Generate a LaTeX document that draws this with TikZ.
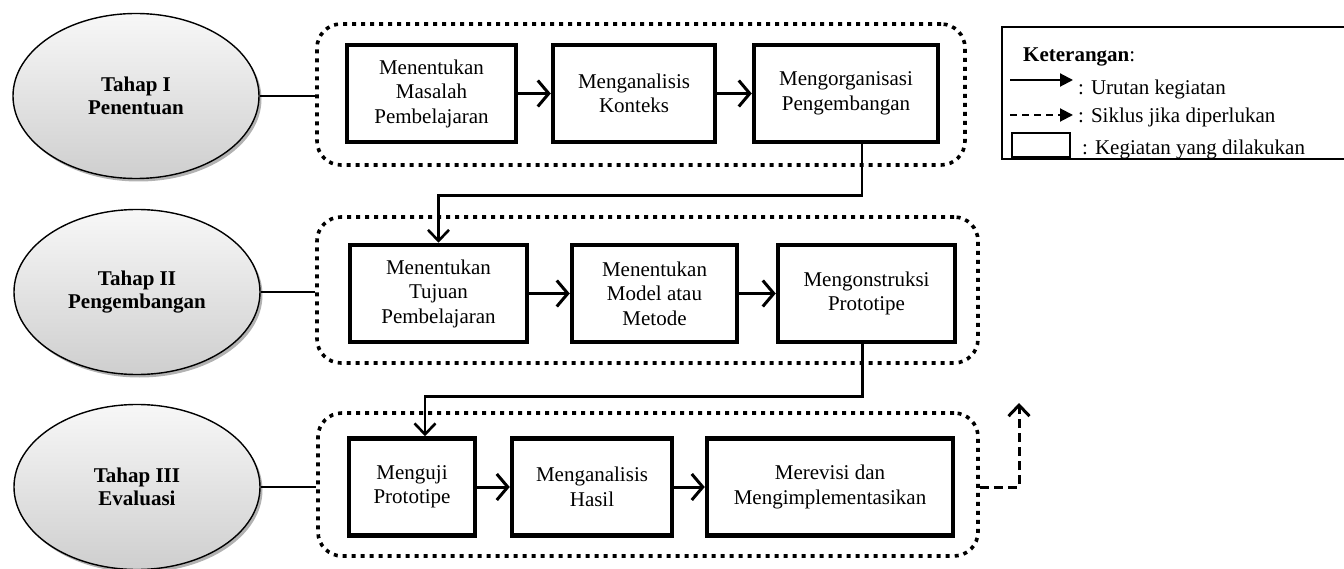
\documentclass[tikz,border=0pt]{standalone}
\usepackage{fontspec}
\setmainfont{Liberation Serif}
\usetikzlibrary{shapes.geometric,arrows.meta,shadows}

\begin{document}
\begin{tikzpicture}[x=1pt,y=-1pt,font=\fontsize{21}{24.5}\selectfont]
		\tikzstyle{phase} =[ellipse, draw, line width=1.4pt, minimum width=246pt, minimum height=165pt, top color=gray!6, bottom color=gray!38, drop shadow={shadow xshift=2.5pt, shadow yshift=-3pt, fill=gray!75, opacity=0.8}, align=center, font=\fontsize{21}{23.5}\selectfont\bfseries];
		\tikzstyle{group} =[draw, line width=3.6pt, dash pattern=on 4pt off 5pt, rounded corners=24pt, inner sep=0pt];
		\tikzstyle{block} =[draw, line width=4.5pt, inner sep=0pt, minimum height=97pt, text badly centered, fill=white];
		\tikzstyle{seqline} =[line width=3pt, -{Straight Barb[length=11pt, width=26pt]}];
		\tikzstyle{flow} =[line width=2.6pt, -{Straight Barb[length=11pt, width=21pt]}];
		\tikzstyle{tie} =[line width=2.4pt];
		\tikzstyle{loopback} =[line width=3pt, dash pattern=on 9pt off 5pt, -{Straight Barb[length=11pt, width=21pt]}];
		\useasboundingbox (0,0) rectangle (1344,569);

		% tahap
		\node[phase] (e1) at (136,96) {Tahap I\\Penentuan};
		\node[phase] (e2) at (137,292) {Tahap II\\Pengembangan};
		\node[phase] (e3) at (137,487) {Tahap III\\Evaluasi};

		\node[group, minimum width=648pt, minimum height=141pt] (p1) at (641,94.5) {};
		\node[group, minimum width=661pt, minimum height=146pt] (p2) at (647.5,290) {};
		\node[group, minimum width=660pt, minimum height=143pt] (p3) at (648,484.5) {};

		% kegiatan
		\node[block, text width=169pt] (A) at (431.5,93.5) {Menentukan\\Masalah\\Pembelajaran};
		\node[block, text width=162pt, right of = A, node distance=202.5pt] (B) {Menganalisis\\Konteks};
		\node[block, text width=184pt, right of = B, node distance=212pt] (C) {Mengorganisasi\\Pengembangan};

		\node[block, text width=177pt] (D) at (438.5,293.5) {Menentukan\\Tujuan\\Pembelajaran};
		\node[block, text width=165pt, right of = D, node distance=216pt] (E) {Menentukan\\Model atau\\Metode};
		\node[block, text width=177pt, right of = E, node distance=212pt] (F) {Mengonstruksi\\Prototipe};

		\node[block, text width=126pt] (G) at (412,487) {Menguji\\Prototipe};
		\node[block, text width=160pt, right of = G, node distance=180pt] (H) {Menganalisis\\Hasil};
		\node[block, text width=246pt, right of = H, node distance=238pt] (I) {Merevisi dan\\Mengimplementasikan};

		\draw[tie] (e1.east) -- (e1.east -| p1.west);
		\draw[tie] (e2.east) -- (e2.east -| p2.west);
		\draw[tie] (e3.east) -- (e3.east -| p3.west);

		\draw[seqline] (A) -- (B);
		\draw[seqline] (B) -- (C);
		\draw[seqline] (D) -- (E);
		\draw[seqline] (E) -- (F);
		\draw[seqline] (G) -- (H);
		\draw[seqline] (H) -- (I);

		\draw[flow] ([xshift=16pt]C.south) -- ++(0,51) -| (D.north);
		\draw[flow] ([xshift=-4pt]F.south) -- ++(0,52) -| ([xshift=13pt]G.north);

		\coordinate (again) at (1019,403);
		\draw[loopback] (p3.east |- I.east) -| (again);

		% keterangan
		\node[draw, line width=1.6pt, minimum width=350pt, minimum height=132pt, inner sep=0pt] (legend) at (1177,93) {};
		\begin{scope}
			\clip (legend.north west) rectangle (legend.south east);
			\node[anchor=base west, inner sep=0pt] (legtitle) at (1023,62) {\textbf{Keterangan}:};
			\node[anchor=base west, inner sep=0pt] (legsolid) at (1078,95) {: Urutan kegiatan};
			\node[anchor=base west, inner sep=0pt] (legdash) at (1078,123) {: Siklus jika diperlukan};
			\node[anchor=base west, inner sep=0pt] (legbox) at (1082,155) {: Kegiatan yang dilakukan};
		\end{scope}
		\coordinate (s1) at (1010,80);
		\coordinate (s2) at (1073,80);
		\coordinate (d1) at (1010,115);
		\coordinate (d2) at (1073,115);
		\draw[line width=2pt, -{Triangle[length=13pt, width=13pt]}] (s1) -- (s2);
		\draw[line width=2pt, dash pattern=on 7pt off 5pt, -{Triangle[length=13pt, width=13pt]}] (d1) -- (d2);
		\node[draw, line width=1.5pt, minimum width=58pt, minimum height=24pt, inner sep=0pt] (legrect) at (1041,145) {};
	\end{tikzpicture}
\end{document}
